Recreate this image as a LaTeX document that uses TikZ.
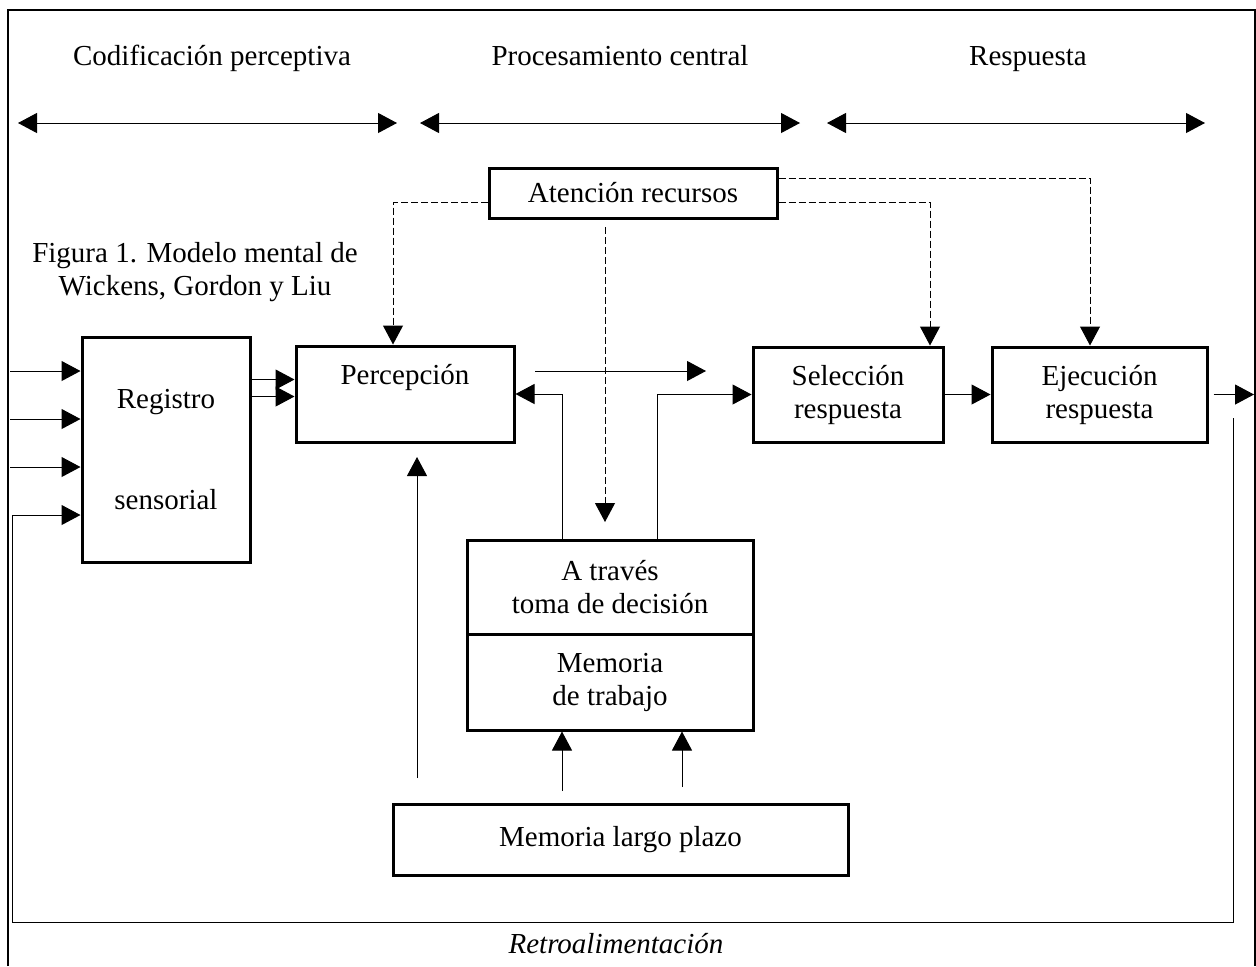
\documentclass[tikz,border=0pt]{standalone}
\usepackage{fontspec}
\setmainfont{Liberation Serif}
\usetikzlibrary{arrows.meta, positioning}

\begin{document}
\begin{tikzpicture}[x=0.5pt,y=-0.5pt,
  >={Triangle[length=9.5pt,width=10pt]},
  box/.style={draw, line width=1.5pt, align=center, inner sep=0pt,
    font=\fontsize{14.5}{16.5}\selectfont},
  txt/.style={align=center, font=\fontsize{14.5}{16.5}\selectfont},
  flow/.style={->, line width=0.5pt},
  att/.style={->, line width=0.5pt, dash pattern=on 3.5pt off 1.5pt}]
  \useasboundingbox (0,0) rectangle (1256,966);
  \draw[line width=1.4pt] (8,966) -- (8,10) -- (1255,10) -- (1255,966);

  % fases
  \node[txt, anchor=base] (codif) at (212,65) {Codificación perceptiva};
  \node[txt, anchor=base] (proc) at (620,65) {Procesamiento central};
  \node[txt, anchor=base] (resp) at (1028,65) {Respuesta};
  \foreach \a/\b [count=\i] in {18/397, 420/800, 827/1205} {
    \coordinate (ph\i a) at (\a,123);
    \coordinate (ph\i b) at (\b,123);
    \draw[<->, line width=0.5pt] (ph\i a) -- (ph\i b);
  }

  % bloques
  \node[box, minimum width=144pt, minimum height=25pt] (aten) at (633,193) {Atención recursos};
  \node[box, minimum width=84pt, minimum height=112.5pt] (reg) at (166,449.5) {Registro\\[34pt]sensorial};
  \node[box, minimum width=109pt, minimum height=48pt] (perc) at (405,394) {Percepción\\[3pt]\mbox{}};
  \node[box, minimum width=95pt, minimum height=47.5pt] (sel) at (848,394.5) {Selección\\respuesta};
  \node[box, minimum width=107.5pt, minimum height=47.5pt] (ejec) at (1099.5,394.5) {Ejecución\\respuesta};
  \node[box, minimum width=143pt, minimum height=47pt] (dec) at (610,587) {A través\\toma de decisión};
  \node[box, minimum width=143pt, minimum height=48pt, below=-1.5pt of dec] (memt) {Memoria\\de trabajo};
  \node[box, minimum width=227.5pt, minimum height=35.5pt] (mlp) at (620.5,839.5) {Memoria largo plazo};

  \node[txt] (fig) at (195,272) {Figura 1. Modelo mental de\\Wickens, Gordon y Liu};
  \node[txt, anchor=base, font=\fontsize{14.5}{16.5}\selectfont\itshape] (retro) at (616,953) {Retroalimentación};

  % entradas
  \foreach \y [count=\i] in {371,419,467} {
    \coordinate (in\i) at (10,\y);
    \draw[flow] (in\i) -- (in\i -| reg.west);
  }
  \draw[flow] ([yshift=35pt]reg.east) -- ([yshift=35pt]reg.east -| perc.west);
  \draw[flow] ([yshift=26.5pt]reg.east) -- ([yshift=26.5pt]reg.east -| perc.west);

  \coordinate (pout) at (535,371);
  \coordinate (pend) at (706,371);
  \draw[flow] (pout) -- (pend);
  \draw[flow] ([xshift=-24pt]dec.north) |- (perc.east);
  \draw[flow] ([xshift=23.5pt]dec.north) |- (sel.west);
  \draw[flow] (sel) -- (ejec);
  \coordinate (eout) at (1254,394.5);
  \draw[flow] ([xshift=2.5pt]ejec.east) -- (eout);

  % retroalimentacion
  \coordinate (fb) at (1233,418);
  \coordinate (fbR) at (1233,922);
  \coordinate (fbL) at (12,922);
  \draw[flow] (fb) -- (fbR) -- (fbL) |- ([yshift=-32.75pt]reg.west);

  % memoria largo plazo
  \coordinate (m1) at (562,791);
  \coordinate (m2) at (682,787);
  \coordinate (m3) at (417,778);
  \coordinate (m3top) at (417,457);
  \draw[flow] (m1) -- (m1 |- memt.south);
  \draw[flow] (m2) -- (m2 |- memt.south);
  \draw[flow] (m3) -- (m3top);

  % atencion
  \draw[att] ([yshift=-4.5pt]aten.west) -| ([xshift=-6pt]perc.north);
  \draw[att] ([yshift=7.5pt]aten.east) -| ([xshift=-4.75pt]ejec.north);
  \draw[att] ([yshift=-4.5pt]aten.east) -| ([xshift=41pt]sel.north);
  \coordinate (a1) at (605,227);
  \coordinate (a2) at (605,522);
  \draw[att] (a1) -- (a2);
\end{tikzpicture}
\end{document}
